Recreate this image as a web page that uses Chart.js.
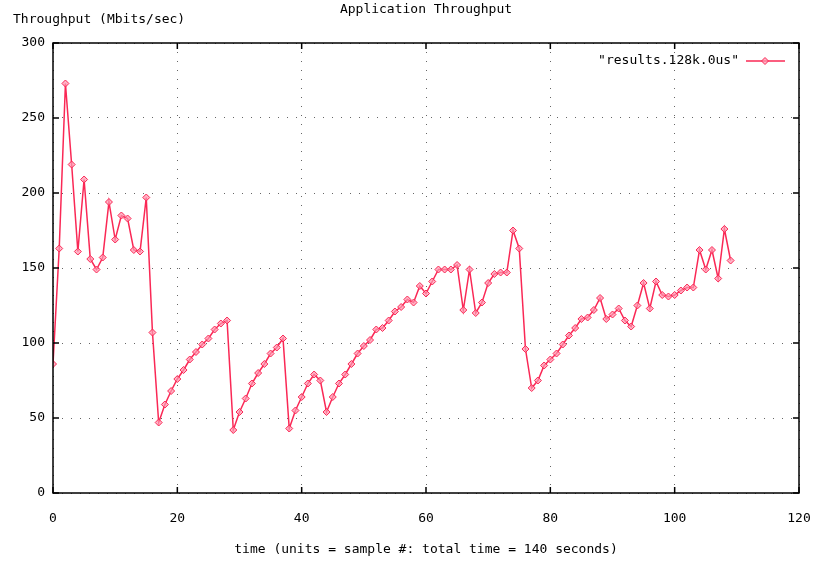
<!DOCTYPE html>
<html>
<head>
<meta charset="utf-8">
<script src="https://cdn.jsdelivr.net/npm/chart.js@4.4.0/dist/chart.umd.min.js"></script>
<style>
    html, body { margin: 0; padding: 0; background: #fff; }
    #wrap { width: 816px; height: 563px; }
</style>
</head>
<body>
<div id="wrap"><canvas id="grafico" width="816" height="563"></canvas></div>
<script>
// valores (Mbits/sec por amostra)
const throughput = [
    86, 163, 273, 219, 161, 209, 156, 149, 157, 194,
    169, 185, 183, 162, 161, 197, 107, 47, 59, 68,
    76, 82, 89, 94, 99, 103, 109, 113, 115, 42,
    54, 63, 73, 80, 86, 93, 97, 103, 43, 55,
    64, 73, 79, 75, 54, 64, 73, 79, 86, 93,
    98, 102, 109, 110, 115, 121, 124, 129, 127, 138,
    133, 141, 149, 149, 149, 152, 122, 149, 120, 127,
    140, 146, 147, 147, 175, 163, 96, 70, 75, 85,
    89, 93, 99, 105, 110, 116, 117, 122, 130, 116,
    119, 123, 115, 111, 125, 140, 123, 141, 132, 131,
    132, 135, 137, 137, 162, 149, 162, 143, 176, 155
];
const xTicks = [0, 20, 40, 60, 80, 100, 120];
const yTicks = [0, 50, 100, 150, 200, 250, 300];
const serieLabel = '"results.128k.0us"';
const titulo = 'Application Throughput';
const tituloY = 'Throughput (Mbits/sec)';
const tituloX = 'time (units = sample #: total time = 140 seconds)';

const FONTE = '13px "DejaVu Sans Mono", monospace';
const COR = 'rgb(250, 40, 85)';

// moldura, marcas internas, textos e legenda no estilo gnuplot
const gnuplotPlugin = {
    id: 'gnuplot',
    afterDraw(chart) {
        const ctx = chart.ctx;
        const a = chart.chartArea;
        const sx = chart.scales.x;
        const sy = chart.scales.y;
        ctx.save();
        ctx.strokeStyle = '#000';
        ctx.lineWidth = 1.5;
        ctx.strokeRect(a.left, a.top, a.right - a.left, a.bottom - a.top);

        ctx.beginPath();
        xTicks.forEach(t => {
            const px = sx.getPixelForValue(t);
            ctx.moveTo(px, a.bottom); ctx.lineTo(px, a.bottom - 6);
            ctx.moveTo(px, a.top); ctx.lineTo(px, a.top + 6);
        });
        yTicks.forEach(t => {
            const py = sy.getPixelForValue(t);
            ctx.moveTo(a.left, py); ctx.lineTo(a.left + 6, py);
            ctx.moveTo(a.right, py); ctx.lineTo(a.right - 6, py);
        });
        ctx.stroke();

        ctx.fillStyle = '#000';
        ctx.font = FONTE;
        ctx.textBaseline = 'middle';
        ctx.textAlign = 'center';
        ctx.fillText(titulo, (a.left + a.right) / 2, 10);
        ctx.fillText(tituloX, (a.left + a.right) / 2, 550);
        ctx.textAlign = 'left';
        ctx.fillText(tituloY, 13, 20);

        // legenda
        const ly = 61;
        ctx.textAlign = 'right';
        ctx.fillText(chart.data.datasets[0].label, 739, ly);
        ctx.strokeStyle = COR;
        ctx.lineWidth = 1.5;
        ctx.beginPath();
        ctx.moveTo(746, ly); ctx.lineTo(785, ly);
        ctx.stroke();
        ctx.fillStyle = 'rgba(255, 150, 175, 0.7)';
        ctx.lineWidth = 1;
        ctx.beginPath();
        ctx.moveTo(765, ly - 3.5); ctx.lineTo(768.5, ly);
        ctx.lineTo(765, ly + 3.5); ctx.lineTo(761.5, ly);
        ctx.closePath();
        ctx.fill();
        ctx.stroke();
        ctx.restore();
    }
};

new Chart(document.getElementById('grafico'), {
    type: 'line',
    data: {
        datasets: [{
            label: serieLabel,
            data: throughput.map((v, i) => ({ x: i, y: v })),
            borderColor: COR,
            borderWidth: 1.5,
            backgroundColor: 'rgba(255, 150, 175, 0.7)',
            pointStyle: 'rectRot',
            pointRadius: 3.5,
            pointBorderWidth: 1,
            pointBorderColor: COR,
            tension: 0
        }]
    },
    options: {
        responsive: false,
        animation: false,
        layout: { padding: { top: 43, right: 17, left: 0, bottom: 0 } },
        plugins: {
            legend: { display: false },
            title: { display: false },
            tooltip: { enabled: false }
        },
        scales: {
            x: {
                type: 'linear',
                min: 0,
                max: 120,
                afterBuildTicks: s => { s.ticks = xTicks.map(v => ({ value: v })); },
                afterFit: s => { s.height = 70; s.paddingLeft = 0; s.paddingRight = 0; },
                grid: { color: '#666', lineWidth: 1, drawTicks: false },
                border: { display: false, dash: [1, 8] },
                ticks: { color: '#000', font: { family: '"DejaVu Sans Mono", monospace', size: 13 }, padding: 18, maxRotation: 0 }
            },
            y: {
                min: 0,
                max: 300,
                afterBuildTicks: s => { s.ticks = yTicks.map(v => ({ value: v })); },
                afterFit: s => { s.width = 53; s.paddingTop = 0; s.paddingBottom = 0; },
                grid: { color: '#666', lineWidth: 1, drawTicks: false },
                border: { display: false, dash: [1, 8] },
                ticks: { color: '#000', font: { family: '"DejaVu Sans Mono", monospace', size: 13 }, padding: 8 }
            }
        }
    },
    plugins: [gnuplotPlugin]
});
</script>
</body>
</html>
